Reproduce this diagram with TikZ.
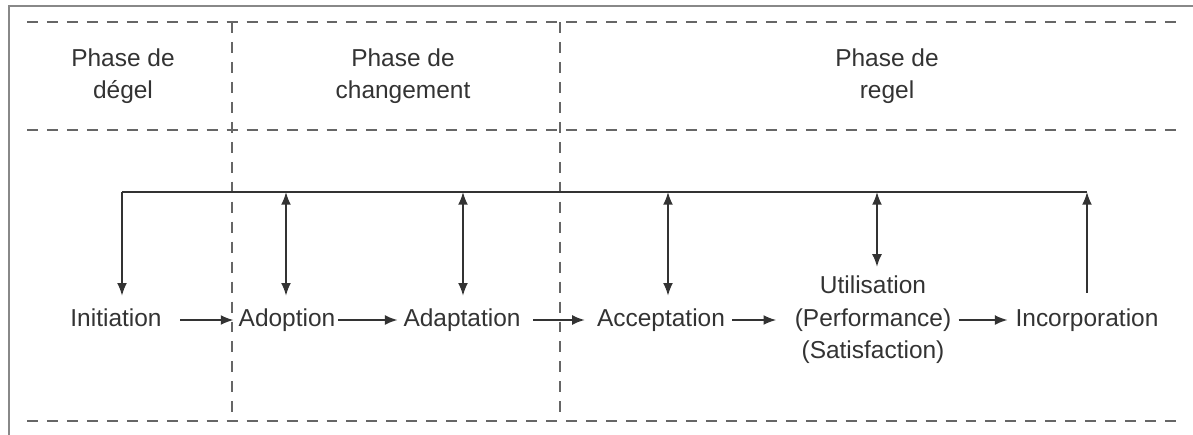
\documentclass[tikz,border=0pt]{standalone}
\usepackage{fontspec}
\setmainfont{Liberation Sans}
\usetikzlibrary{arrows.meta}

\definecolor{inkgray}{HTML}{333333}
\definecolor{dashgray}{HTML}{666666}
\definecolor{framegray}{HTML}{888888}

\tikzset{
  phase/.style={align=center, inner sep=0pt, text=inkgray},
  stage/.style={inner sep=0pt, text=inkgray, text height=12.5pt, text depth=3.6pt},
  multistage/.style={align=center, inner sep=0pt, text=inkgray},
  sep/.style={dashgray, line width=1.4pt, dash pattern=on 7.8pt off 6.4pt},
  bus/.style={inkgray, line width=1.5pt},
  flow/.style={inkgray, line width=1.2pt, -{Latex[length=9pt,width=7pt]}},
  twoway/.style={inkgray, line width=1.2pt, {Latex[length=9pt,width=7pt]}-{Latex[length=9pt,width=7pt]}},
}

\begin{document}
\begin{tikzpicture}[x=0.025cm, y=-0.025cm, every node/.style={font=\fontsize{17.4}{23}\selectfont}]
  \useasboundingbox (0,0) rectangle (1193,435);
  % frame, only top and left show
  \draw[framegray, line width=1.8pt] (9,435) -- (9,6) -- (1193,6);
  % phase grid
  \draw[sep] (27,22) -- (1182,22);
  \draw[sep] (27,130) -- (1178,130);
  \draw[sep] (27,421) -- (1182,421);
  \draw[sep] (232,22) -- (232,421);
  \draw[sep] (560,22) -- (560,421);

  \node[phase] (degel) at (123,76) {Phase de\\dégel};
  \node[phase] (chgt) at (403,76) {Phase de\\changement};
  \node[phase] (regel) at (887,76) {Phase de\\regel};

  % stages
  \node[stage] (init) at (116,320) {Initiation};
  \node[stage] (adop) at (287,320) {Adoption};
  \node[stage] (adap) at (462,320) {Adaptation};
  \node[stage] (acc) at (661,320) {Acceptation};
  \node[multistage] (util) at (873,320) {Utilisation\\(Performance)\\(Satisfaction)};
  \node[stage] (inc) at (1087,320) {Incorporation};

  \draw[flow, shorten <=13pt, shorten >=3.5pt] (init) -- (adop);
  \draw[flow, shorten <=2pt, shorten >=4pt] (adop) -- (adap);
  \draw[flow, shorten <=9pt, shorten >=8.5pt] (adap) -- (acc);
  \draw[flow, shorten <=5pt, shorten >=13pt] (acc) -- (util);
  \draw[flow, shorten <=5pt, shorten >=5.5pt] (util) -- (inc);

  % feedback bus
  \coordinate (busL) at (122,192);
  \coordinate (busR) at (1087,192);
  \coordinate (tAdop) at (286,192);
  \coordinate (tAdap) at (463,192);
  \coordinate (tAcc) at (668,192);
  \coordinate (tUtil) at (877,192);
  \draw[bus] (busL) -- (busR);

  \draw[flow, shorten >=9pt] (busL) -- (busL |- init.north);
  \draw[twoway, shorten >=9pt] (tAdop) -- (tAdop |- adop.north);
  \draw[twoway, shorten >=9pt] (tAdap) -- (tAdap |- adap.north);
  \draw[twoway, shorten >=9pt] (tAcc) -- (tAcc |- acc.north);
  \draw[twoway, shorten >=6.5pt] (tUtil) -- (tUtil |- util.north);
  \draw[flow, shorten <=11pt] (inc.north) -- (busR);
\end{tikzpicture}
\end{document}
